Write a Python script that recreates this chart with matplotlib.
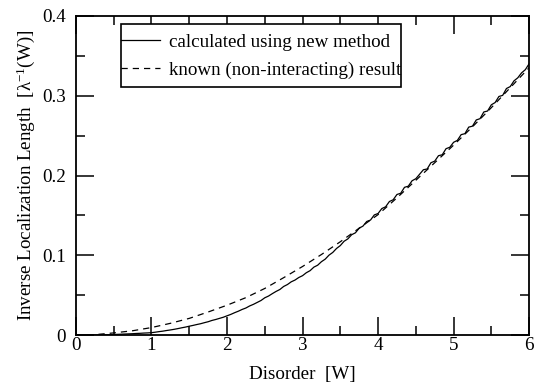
import matplotlib
matplotlib.use("Agg")
import matplotlib.pyplot as plt
import matplotlib.patches as patches
import numpy as np

plt.rcParams['font.family'] = ['Liberation Serif', 'DejaVu Serif']
plt.rcParams['mathtext.fontset'] = 'custom'
plt.rcParams['mathtext.rm'] = 'Liberation Serif'
plt.rcParams['mathtext.it'] = 'Liberation Serif:italic'

# disorder values for the calculated curve (step 0.05)
w_calc = np.arange(121) * 0.05
calc = [
    0.0000, 0.0000, 0.0000, 0.0001, 0.0001, 0.0002, 0.0003, 0.0004, 0.0005, 0.0006,
    0.0008, 0.0010, 0.0012, 0.0014, 0.0016, 0.0018, 0.0021, 0.0023, 0.0026, 0.0028,
    0.0031, 0.0037, 0.0044, 0.0050, 0.0058, 0.0065, 0.0073, 0.0082, 0.0092, 0.0101,
    0.0112, 0.0122, 0.0133, 0.0143, 0.0156, 0.0168, 0.0184, 0.0196, 0.0210, 0.0224,
    0.0242, 0.0260, 0.0281, 0.0300, 0.0322, 0.0340, 0.0366, 0.0386, 0.0410, 0.0434,
    0.0468, 0.0490, 0.0520, 0.0548, 0.0572, 0.0610, 0.0634, 0.0668, 0.0690, 0.0722,
    0.0745, 0.0782, 0.0808, 0.0852, 0.0876, 0.0920, 0.0952, 0.1002, 0.1036, 0.1086,
    0.1122, 0.1176, 0.1206, 0.1258, 0.1282, 0.1340, 0.1366, 0.1424, 0.1442, 0.1506,
    0.1524, 0.1586, 0.1608, 0.1674, 0.1696, 0.1762, 0.1778, 0.1852, 0.1866, 0.1934,
    0.1960, 0.2016, 0.2072, 0.2082, 0.2160, 0.2180, 0.2248, 0.2260, 0.2336, 0.2354,
    0.2416, 0.2440, 0.2512, 0.2524, 0.2606, 0.2618, 0.2696, 0.2712, 0.2796, 0.2808,
    0.2886, 0.2914, 0.2990, 0.3004, 0.3090, 0.3114, 0.3186, 0.3224, 0.3286, 0.3326,
    0.3400,
]

# known (non-interacting) result, step 0.25
w_known = np.arange(25) * 0.25
known = [
    0.0000, 0.0006, 0.0028, 0.0055, 0.0095, 0.0148, 0.0210, 0.0290, 0.0375, 0.0470,
    0.0585, 0.0720, 0.0860, 0.1010, 0.1170, 0.1340, 0.1510, 0.1720, 0.1940, 0.2160,
    0.2380, 0.2610, 0.2850, 0.3100, 0.3350,
]

fig = plt.figure(figsize=(5.35, 3.87), dpi=100)
ax = fig.add_axes([0.142, 0.134, 0.847, 0.825])

ax.plot(w_calc, calc, color='black', lw=0.9, label='calculated using new method')
ax.plot(w_known, known, color='black', lw=0.9, dashes=(5, 4),
        label='known (non-interacting) result')

ax.set_xlim(0, 6)
ax.set_ylim(0, 0.4)
ax.set_xticks(range(7))
ax.set_xticks(np.arange(0.5, 6, 1.0), minor=True)
ax.set_yticks([0, 0.1, 0.2, 0.3, 0.4])
ax.set_yticklabels(['0', '0.1', '0.2', '0.3', '0.4'])
ax.set_yticks([0.05, 0.15, 0.25, 0.35], minor=True)

for s in ax.spines.values():
    s.set_linewidth(1.3)
ax.tick_params(which='both', direction='in', top=True, right=True, labelsize=13.7, width=1.1)
ax.tick_params(which='major', length=13)
ax.tick_params(which='minor', length=6.5)
ax.tick_params(axis='x', pad=1)
ax.tick_params(axis='y', pad=7)

ax.set_xlabel('Disorder  [W]', fontsize=13.7, labelpad=9)
ax.set_ylabel(r'Inverse Localization Length  [$\mathrm{\lambda}^{-1}$(W)]', fontsize=13.7, labelpad=4)

# legend without its own frame; the box is drawn as a separate rectangle
leg = ax.legend(loc='upper left', bbox_to_anchor=(0.099, 0.944), borderaxespad=0,
                fontsize=13.7, frameon=False, handlelength=2.05,
                handletextpad=0.5, labelspacing=0.56, borderpad=0)
box = patches.Rectangle((0.099, 0.777), 0.619, 0.198, transform=ax.transAxes,
                        fill=True, facecolor='white', edgecolor='black', lw=1.2, zorder=4)
ax.add_patch(box)
leg.set_zorder(5)

fig.savefig('out.png', dpi=100)
